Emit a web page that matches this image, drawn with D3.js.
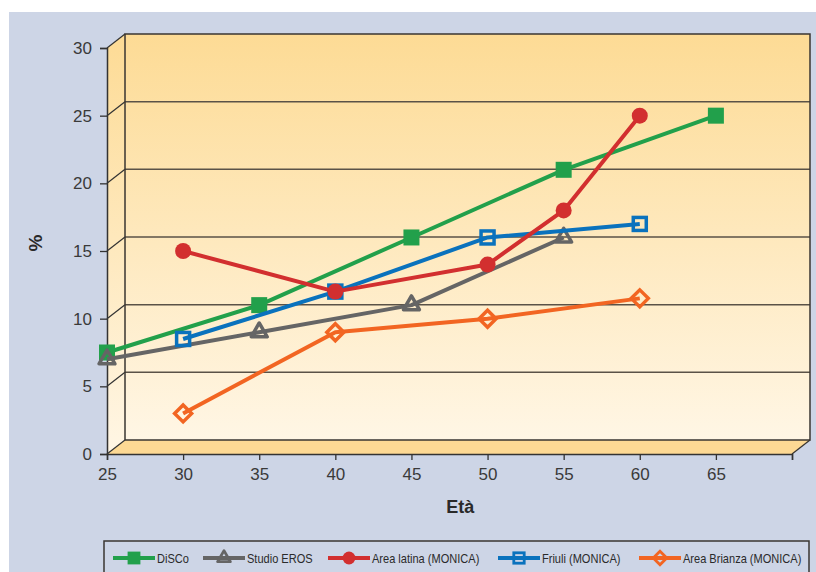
<!DOCTYPE html>
<html>
<head>
<meta charset="utf-8">
<script src="https://cdn.jsdelivr.net/npm/d3@7"></script>
<style>
  html, body { margin: 0; padding: 0; background: #ffffff; }
  svg { display: block; }
</style>
</head>
<body>
<div id="chart"></div>
<script>
// Age groups (x) and prevalence percentages (y) for each study
const xTicks = [25, 30, 35, 40, 45, 50, 55, 60, 65, 70];
const xTickLabels = ["25", "30", "35", "40", "45", "50", "55", "60", "65", ""];
const yTicks = [0, 5, 10, 15, 20, 25, 30];

const discoAges = [25, 35, 45, 55, 65];
const discoValues = [7.5, 11, 16, 21, 25];

const erosAges = [25, 35, 45, 55];
const erosValues = [7, 9, 11, 16];

const friuliAges = [30, 40, 50, 60];
const friuliValues = [8.5, 12, 16, 17];

const latinaAges = [30, 40, 50, 55, 60];
const latinaValues = [15, 12, 14, 18, 25];

const brianzaAges = [30, 40, 50, 60];
const brianzaValues = [3, 9, 10, 11.5];

const seriesNames = ["DiSCo", "Studio EROS", "Area latina (MONICA)", "Friuli (MONICA)", "Area Brianza (MONICA)"];
const seriesColors = ["#22a04b", "#656565", "#d22f2f", "#0a72bd", "#f26522"];
const seriesMarkers = ["squareFilled", "triangle", "circle", "squareOpen", "diamond"];

// drawing order: later series sit on top
const series = [
  { name: seriesNames[0], x: discoAges, y: discoValues, color: seriesColors[0], marker: seriesMarkers[0] },
  { name: seriesNames[1], x: erosAges, y: erosValues, color: seriesColors[1], marker: seriesMarkers[1] },
  { name: seriesNames[3], x: friuliAges, y: friuliValues, color: seriesColors[3], marker: seriesMarkers[3] },
  { name: seriesNames[2], x: latinaAges, y: latinaValues, color: seriesColors[2], marker: seriesMarkers[2] },
  { name: seriesNames[4], x: brianzaAges, y: brianzaValues, color: seriesColors[4], marker: seriesMarkers[4] }
];

const W = 816, H = 572;
const depthX = 18, depthY = -14;   // 3D offset of the back wall

const svg = d3.select("#chart").append("svg")
  .attr("width", W).attr("height", H);

// panel background
svg.append("rect").attr("x", 9).attr("y", 12).attr("width", W - 9).attr("height", H - 12)
  .attr("fill", "#cdd5e6");

const x = d3.scaleLinear().domain([25, 70]).range([107, 792]);
const y = d3.scaleLinear().domain([0, 30]).range([454, 48]);

const defs = svg.append("defs");
const grad = defs.append("linearGradient").attr("id", "wallGrad")
  .attr("x1", 0).attr("y1", 0).attr("x2", 0).attr("y2", 1);
grad.append("stop").attr("offset", "0%").attr("stop-color", "#fddb95");
grad.append("stop").attr("offset", "100%").attr("stop-color", "#fff6e5");

const x0 = x(25), x1 = x(70), yTop = y(30), yBot = y(0);

// back wall
svg.append("rect")
  .attr("x", x0 + depthX).attr("y", yTop + depthY)
  .attr("width", x1 - x0).attr("height", yBot - yTop)
  .attr("fill", "url(#wallGrad)");

// side wall
svg.append("path")
  .attr("d", `M${x0},${yTop} L${x0 + depthX},${yTop + depthY} L${x0 + depthX},${yBot + depthY} L${x0},${yBot} Z`)
  .attr("fill", "url(#wallGrad)");

// floor
svg.append("path")
  .attr("d", `M${x0},${yBot} L${x0 + depthX},${yBot + depthY} L${x1 + depthX},${yBot + depthY} L${x1},${yBot} Z`)
  .attr("fill", "#fdd994");

// horizontal gridlines on the back wall and side wall
const gridVals = yTicks.filter(v => v > 0 && v < 30);
svg.append("g").selectAll("line").data(gridVals).join("line")
  .attr("x1", x0 + depthX).attr("x2", x1 + depthX)
  .attr("y1", d => y(d) + depthY).attr("y2", d => y(d) + depthY)
  .attr("stroke", "#5a5247").attr("stroke-width", 1.5);
svg.append("g").selectAll("line").data(yTicks).join("line")
  .attr("x1", x0).attr("x2", x0 + depthX)
  .attr("y1", d => y(d)).attr("y2", d => y(d) + depthY)
  .attr("stroke", "#333").attr("stroke-width", 1.2);

// outlines of the box
const edge = "#3a3632";
svg.append("path")
  .attr("d", `M${x0 + depthX},${yBot + depthY} L${x0 + depthX},${yTop + depthY} L${x1 + depthX},${yTop + depthY} L${x1 + depthX},${yBot + depthY} L${x0 + depthX},${yBot + depthY}`)
  .attr("fill", "none").attr("stroke", edge).attr("stroke-width", 1.5);
svg.append("path")
  .attr("d", `M${x1},${yBot} L${x1 + depthX},${yBot + depthY}`)
  .attr("fill", "none").attr("stroke", edge).attr("stroke-width", 1.3);

// axes
const fontMain = "'Liberation Sans', Arial, sans-serif";
const yAxis = svg.append("g").attr("transform", `translate(${x0},0)`)
  .call(d3.axisLeft(y).tickValues(yTicks).tickSize(7).tickPadding(8).tickFormat(d3.format("d")));
const xAxis = svg.append("g").attr("transform", `translate(0,${yBot})`)
  .call(d3.axisBottom(x).tickValues(xTicks).tickSize(6).tickPadding(8)
    .tickFormat((d, i) => xTickLabels[i]));
[yAxis, xAxis].forEach(g => {
  g.select(".domain").attr("stroke", "#333").attr("stroke-width", 1.5);
  g.selectAll(".tick line").attr("stroke", "#333").attr("stroke-width", 1.3);
  g.selectAll(".tick text").attr("fill", "#3a3a3a")
    .style("font-family", fontMain).style("font-size", "17px");
});

// axis titles
svg.append("text").attr("x", x(48.2)).attr("y", 513)
  .attr("text-anchor", "middle").attr("fill", "#2a2a2a")
  .style("font-family", fontMain).style("font-size", "18px").style("font-weight", "bold")
  .text("Età");
svg.append("text").attr("transform", `translate(42,243) rotate(-90)`)
  .attr("text-anchor", "middle").attr("fill", "#2a2a2a")
  .style("font-family", fontMain).style("font-size", "19px").style("font-weight", "bold")
  .text("%");

// marker drawing
function drawMarker(g, type, color, scale) {
  const s = scale || 1;
  if (type === "squareFilled") {
    g.append("rect").attr("x", -8 * s).attr("y", -8 * s).attr("width", 16 * s).attr("height", 16 * s)
      .attr("fill", color);
  } else if (type === "squareOpen") {
    g.append("rect").attr("x", -6.5 * s).attr("y", -6.5 * s).attr("width", 13 * s).attr("height", 13 * s)
      .attr("fill", "none").attr("stroke", color).attr("stroke-width", 3.5 * s);
  } else if (type === "circle") {
    g.append("circle").attr("r", 8 * s).attr("fill", color);
  } else if (type === "triangle") {
    g.append("path").attr("d", d3.symbol().type(d3.symbolTriangle).size(110 * s * s)())
      .attr("fill", "none").attr("stroke", color).attr("stroke-width", 3.5 * s)
      .attr("stroke-linejoin", "round");
  } else if (type === "diamond") {
    const r = 8.5 * s;
    g.append("path").attr("d", `M0,${-r} L${r},0 L0,${r} L${-r},0 Z`)
      .attr("fill", "none").attr("stroke", color).attr("stroke-width", 3.5 * s);
  }
}

const line = d3.line().x(d => x(d[0])).y(d => y(d[1]));
series.forEach(s => {
  const pts = s.x.map((a, i) => [a, s.y[i]]);
  const g = svg.append("g");
  g.append("path").attr("d", line(pts)).attr("fill", "none")
    .attr("stroke", s.color).attr("stroke-width", 4).attr("stroke-linejoin", "round");
  pts.forEach(p => {
    drawMarker(g.append("g").attr("transform", `translate(${x(p[0])},${y(p[1])})`), s.marker, s.color, 1);
  });
});

// legend
svg.append("rect").attr("x", 104).attr("y", 541).attr("width", 705).attr("height", 45)
  .attr("fill", "#cdd5e6").attr("stroke", "#3a3632").attr("stroke-width", 1.5);

const legendX = [113, 203, 328, 498, 639];
seriesNames.forEach((name, i) => {
  const lx = legendX[i], ly = 558;
  const g = svg.append("g");
  g.append("line").attr("x1", lx).attr("x2", lx + 42).attr("y1", ly).attr("y2", ly)
    .attr("stroke", seriesColors[i]).attr("stroke-width", 4);
  drawMarker(g.append("g").attr("transform", `translate(${lx + 21},${ly})`), seriesMarkers[i], seriesColors[i], 0.8);
  // condensed label
  g.append("text").attr("transform", `translate(${lx + 44},${ly + 4.5}) scale(0.85,1)`)
    .attr("fill", "#2a2a2a")
    .style("font-family", fontMain).style("font-size", "13px")
    .text(name);
});
</script>
</body>
</html>
